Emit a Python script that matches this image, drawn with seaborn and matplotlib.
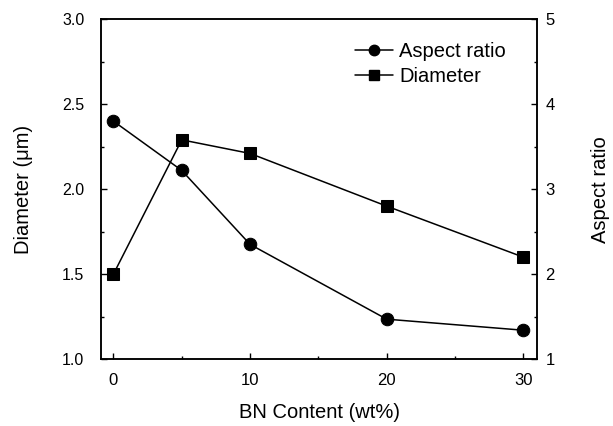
import numpy as np
import pandas as pd
import matplotlib
matplotlib.use('Agg')
import matplotlib.pyplot as plt
from matplotlib.ticker import MultipleLocator, FormatStrFormatter
from matplotlib.lines import Line2D
import seaborn as sns

bn_content = [0, 5, 10, 20, 30]
diameter = [1.50, 2.29, 2.21, 1.90, 1.60]
aspect_ratio = [3.80, 3.22, 2.35, 1.47, 1.34]

df = pd.DataFrame({'bn': bn_content, 'diameter': diameter, 'aspect': aspect_ratio})

sns.set_style('ticks')
plt.rcParams['font.family'] = ['Liberation Sans', 'DejaVu Sans']
plt.rcParams['xtick.direction'] = 'in'
plt.rcParams['ytick.direction'] = 'in'
plt.rcParams['text.color'] = 'black'
plt.rcParams['axes.labelcolor'] = 'black'
plt.rcParams['xtick.color'] = 'black'
plt.rcParams['ytick.color'] = 'black'
plt.rcParams['axes.edgecolor'] = 'black'

fig = plt.figure(figsize=(6.13, 4.26), dpi=100)
ax = fig.add_axes([0.165, 0.157, 0.711, 0.798])
ax2 = ax.twinx()

sns.lineplot(x='bn', y='diameter', data=df, ax=ax, color='black', marker='s',
             markersize=8, markeredgecolor='black', linewidth=1.1)
sns.lineplot(x='bn', y='aspect', data=df, ax=ax2, color='black', marker='o',
             markersize=9, markeredgecolor='black', linewidth=1.1)

ax.set_xlim(-0.9, 31)
ax.set_ylim(1.0, 3.0)
ax2.set_ylim(1, 5)
ax.set_xticks([0, 10, 20, 30])
ax.xaxis.set_minor_locator(MultipleLocator(5))
ax.yaxis.set_major_locator(MultipleLocator(0.5))
ax.yaxis.set_minor_locator(MultipleLocator(0.25))
ax2.yaxis.set_major_locator(MultipleLocator(1))
ax2.yaxis.set_minor_locator(MultipleLocator(0.5))
ax.yaxis.set_major_formatter(FormatStrFormatter('%.1f'))

for a in (ax, ax2):
    a.tick_params(which='major', length=4, width=1, labelsize=12)
    a.tick_params(which='minor', length=2, width=1)
    for s in a.spines.values():
        s.set_linewidth(1.1)
ax.tick_params(axis='x', pad=10)
ax.tick_params(axis='y', pad=12, labelsize=11.5)
ax2.tick_params(axis='y', pad=6)

ax.set_xlabel('BN Content (wt%)', fontsize=14.5, labelpad=11)
ax.set_ylabel('Diameter (\u03bcm)', fontsize=14.5, labelpad=21)
ax2.set_ylabel('Aspect ratio', fontsize=14.5, labelpad=26)

handles = [
    Line2D([], [], color='black', marker='o', markersize=7.5, linewidth=1.1),
    Line2D([], [], color='black', marker='s', markersize=6.5, linewidth=1.1),
]
ax.legend(handles, ['Aspect ratio', 'Diameter'], loc='upper right', frameon=False,
          fontsize=14.5, handlelength=1.9, handletextpad=0.3, labelspacing=0.3,
          bbox_to_anchor=(0.97, 0.985))

fig.savefig('out.png', dpi=100)
